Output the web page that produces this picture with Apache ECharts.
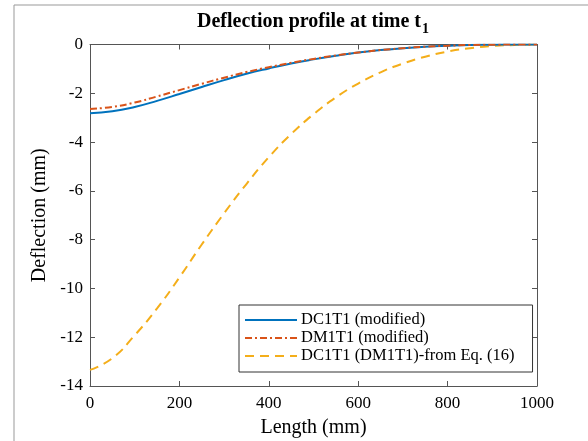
<!DOCTYPE html>
<html>
<head>
<meta charset="utf-8">
<script src="https://cdn.jsdelivr.net/npm/echarts@6/dist/echarts.min.js"></script>
<style>html,body{margin:0;padding:0;background:#fff;}#c{width:588px;height:441px;}</style>
</head>
<body>
<div id="c"></div>
<script>
var lengths = [0,50,100,150,200,250,300,350,400,450,500,550,600,650,700,750,800,850,900,950,1000];
var dc1t1 = [-2.82,-2.74,-2.56,-2.31,-2.03,-1.74,-1.46,-1.2,-0.98,-0.78,-0.61,-0.46,-0.33,-0.23,-0.15,-0.09,-0.05,-0.02,-0.01,0,0];
var dm1t1 = [-2.64,-2.56,-2.38,-2.13,-1.87,-1.61,-1.36,-1.13,-0.93,-0.75,-0.59,-0.45,-0.33,-0.23,-0.15,-0.09,-0.05,-0.02,-0.01,0,0];
var eq16 = [-13.34,-12.86,-11.92,-10.82,-9.55,-8.2,-6.92,-5.72,-4.62,-3.67,-2.86,-2.17,-1.6,-1.14,-0.78,-0.5,-0.29,-0.15,-0.06,-0.02,0];
var seriesNames = ['DC1T1 (modified)','DM1T1 (modified)','DC1T1 (DM1T1)-from Eq. (16)'];
var xTicks = {min:0,max:1000,interval:200};
var yTicks = {min:-14,max:0,interval:2};

function pairs(v){ return lengths.map(function(x,i){ return [x, v[i]]; }); }
var FONT = 'Liberation Serif';
var axisLineStyle = {color:'#555', width:1};
var chart = echarts.init(document.getElementById('c'), null, {renderer:'canvas'});
chart.setOption({
  animation:false,
  backgroundColor:'#fff',
  title:{
    left:313, textAlign:'center', top:12, padding:0,
    text:'{a|Deflection profile at time t}{b|1}',
    textStyle:{
      rich:{
        a:{fontFamily:FONT, fontWeight:'bold', fontSize:20, color:'#000', lineHeight:20, verticalAlign:'top'},
        b:{fontFamily:FONT, fontWeight:'bold', fontSize:14, color:'#000', lineHeight:20, padding:[10,0,0,1], verticalAlign:'top'}
      }
    }
  },
  graphic:[
    {type:'line', shape:{x1:14, y1:5, x2:588, y2:5}, style:{stroke:'#999', lineWidth:1}},
    {type:'line', shape:{x1:14, y1:5, x2:14, y2:441}, style:{stroke:'#999', lineWidth:1}}
  ],
  grid:{left:90, right:51, top:44.5, bottom:55, containLabel:false, outerBoundsMode:'none'},
  legend:{
    orient:'vertical', left:239, top:305,
    data:seriesNames,
    itemWidth:52, itemHeight:14, itemGap:0,
    padding:[6,18,7,5],
    borderColor:'#333', borderWidth:1, backgroundColor:'#fff',
    itemStyle:{opacity:0, color:'rgba(0,0,0,0)', borderWidth:0},
    textStyle:{fontFamily:FONT, fontSize:16.5, lineHeight:18, color:'#000', padding:[0,0,0,-1]}
  },
  xAxis:[
    {type:'value', position:'bottom', min:xTicks.min, max:xTicks.max, interval:xTicks.interval,
     name:'Length (mm)', nameLocation:'middle', nameGap:32,
     nameTextStyle:{fontFamily:FONT, fontSize:20, color:'#000'},
     axisLine:{onZero:false, lineStyle:axisLineStyle}, axisTick:{inside:true, length:5, lineStyle:axisLineStyle},
     axisLabel:{fontFamily:FONT, fontSize:17, color:'#000', margin:9, formatter:function(v){return String(v);}},
     splitLine:{show:false}},
    {type:'value', position:'top', min:xTicks.min, max:xTicks.max, interval:xTicks.interval,
     axisLine:{onZero:false, lineStyle:axisLineStyle}, axisTick:{inside:true, length:5, lineStyle:axisLineStyle},
     axisLabel:{show:false}, splitLine:{show:false}}
  ],
  yAxis:[
    {type:'value', position:'left', min:yTicks.min, max:yTicks.max, interval:yTicks.interval,
     name:'Deflection (mm)', nameLocation:'middle', nameGap:29, nameRotate:90,
     nameTextStyle:{fontFamily:FONT, fontSize:20, color:'#000'},
     axisLine:{onZero:false, lineStyle:axisLineStyle}, axisTick:{inside:true, length:5, lineStyle:axisLineStyle},
     axisLabel:{fontFamily:FONT, fontSize:17, color:'#000', margin:7, formatter:function(v){return String(v);}},
     splitLine:{show:false}},
    {type:'value', position:'right', min:yTicks.min, max:yTicks.max, interval:yTicks.interval,
     axisLine:{onZero:false, lineStyle:axisLineStyle}, axisTick:{inside:true, length:5, lineStyle:axisLineStyle},
     axisLabel:{show:false}, splitLine:{show:false}}
  ],
  series:[
    {name:seriesNames[0], type:'line', data:pairs(dc1t1), smooth:0.5, symbol:'none', showSymbol:false,
     lineStyle:{color:'#0072BD', width:2}, itemStyle:{color:'#0072BD'}, z:3},
    {name:seriesNames[1], type:'line', data:pairs(dm1t1), smooth:0.5, symbol:'none', showSymbol:false,
     lineStyle:{color:'#D95319', width:2, type:[7,3,2,3]}, itemStyle:{color:'#D95319'}, z:4},
    {name:seriesNames[2], type:'line', data:pairs(eq16), smooth:0.5, symbol:'none', showSymbol:false,
     lineStyle:{color:'#F4AE1A', width:2, type:[9,6]}, itemStyle:{color:'#F4AE1A'}, z:2}
  ]
});
</script>
</body>
</html>
